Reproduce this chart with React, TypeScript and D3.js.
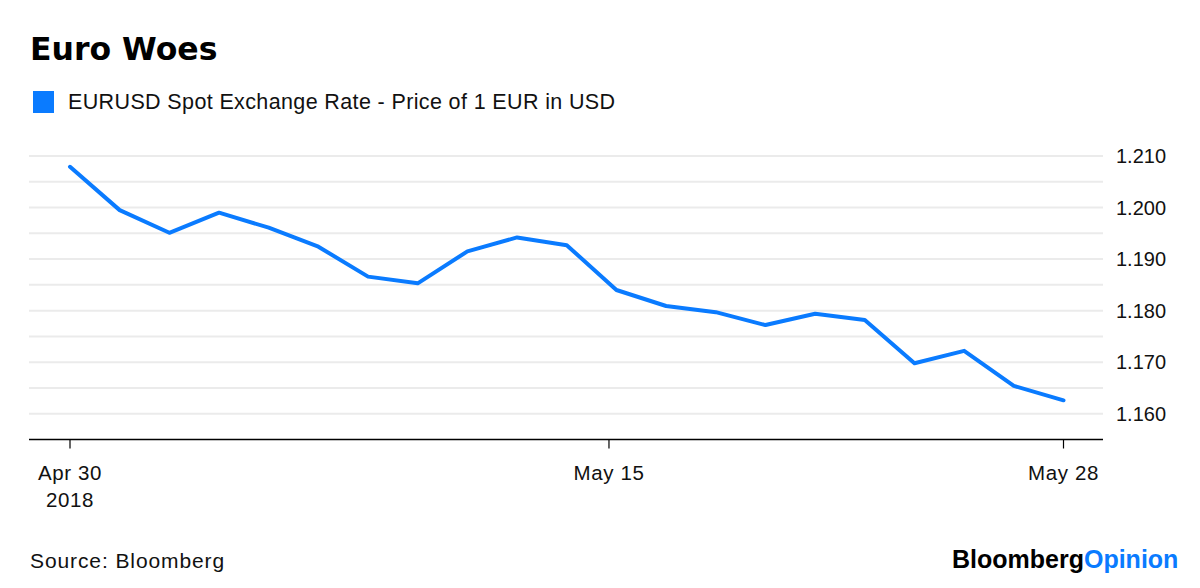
import React from "react";
import * as d3 from "d3";

const dates = [
  "Apr 30", "May 1", "May 2", "May 3", "May 4",
  "May 7", "May 8", "May 9", "May 10", "May 11",
  "May 14", "May 15", "May 16", "May 17", "May 18",
  "May 21", "May 22", "May 23", "May 24", "May 25",
  "May 28",
];
const eurusd = [
  1.2079, 1.1995, 1.1951, 1.1990, 1.1961,
  1.1924, 1.1866, 1.1853, 1.1915, 1.1942,
  1.1927, 1.1840, 1.1809, 1.1797, 1.1772,
  1.1794, 1.1782, 1.1698, 1.1722, 1.1654,
  1.1626,
];
const xTickPos = [0, 10.85, 20];
const xTickLabels = [["Apr 30", "2018"], ["May 15"], ["May 28"]];
const yTicks = [1.16, 1.17, 1.18, 1.19, 1.2, 1.21];
const gridValues = [1.16, 1.165, 1.17, 1.175, 1.18, 1.185, 1.19, 1.195, 1.2, 1.205, 1.21];

const BLUE = "#0a7bff";
const FONT = "'Liberation Sans', Arial, sans-serif";

export default function App() {
  const W = 1200, H = 588;
  const left = 29, right = 1103;
  const x = d3.scaleLinear().domain([0, dates.length - 1]).range([70, 1063.5]);
  const y = d3.scaleLinear().domain([1.155, 1.21]).range([439.5, 156]);
  const line = d3.line<number>().x((_, i) => x(i)).y((d) => y(d));

  return (
    <svg width={W} height={H} style={{ position: "fixed", left: 0, top: 0, background: "#fff" }}>
      <rect width={W} height={H} fill="#fff" />
      <text x={30} y={60} fontFamily="'DejaVu Sans', sans-serif" fontWeight="bold" fontSize={31.5} fill="#000">
        Euro Woes
      </text>
      <rect x={33} y={91} width={21} height={22} fill={BLUE} />
      <text x={68} y={109} fontFamily={FONT} fontSize={21.5} letterSpacing={0.37} fill="#111">
        EURUSD Spot Exchange Rate - Price of 1 EUR in USD
      </text>

      {gridValues.map((v) => (
        <line key={v} x1={left} x2={right} y1={y(v)} y2={y(v)} stroke="#ebebeb" strokeWidth={2} />
      ))}
      {yTicks.map((v) => (
        <text key={v} x={1116} y={y(v)} dy="0.36em" fontFamily={FONT} fontSize={20} fill="#111">
          {d3.format(".3f")(v)}
        </text>
      ))}

      <line x1={left} x2={right} y1={y(1.155)} y2={y(1.155)} stroke="#000" strokeWidth={1.5} />
      {xTickPos.map((p, i) => (
        <g key={i} transform={`translate(${x(p)},0)`}>
          <line y1={y(1.155)} y2={y(1.155) + 9} stroke="#000" strokeWidth={1.2} />
          {xTickLabels[i].map((t, j) => (
            <text key={j} y={480 + j * 27} textAnchor="middle" fontFamily={FONT} fontSize={20.5} letterSpacing={0.6} fill="#111">
              {t}
            </text>
          ))}
        </g>
      ))}

      <path d={line(eurusd) || ""} fill="none" stroke={BLUE} strokeWidth={4} strokeLinejoin="round" strokeLinecap="round" />

      <text x={30} y={568} fontFamily={FONT} fontSize={21} letterSpacing={0.9} fill="#111">
        Source: Bloomberg
      </text>
      <text x={952} y={568} fontFamily={FONT} fontWeight="bold" fontSize={25} letterSpacing={0}>
        <tspan fill="#000">Bloomberg</tspan>
        <tspan fill={BLUE}>Opinion</tspan>
      </text>
    </svg>
  );
}
